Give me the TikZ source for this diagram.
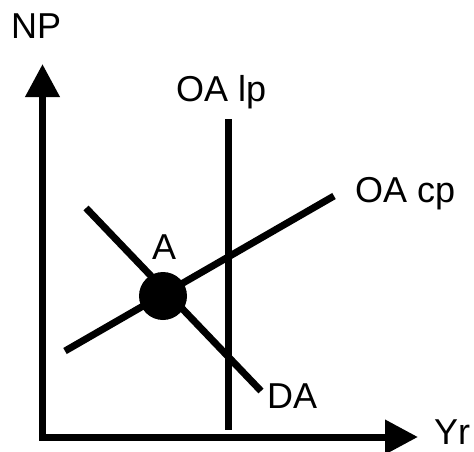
\documentclass[tikz,border=0pt]{standalone}
\usepackage{fontspec}
\setmainfont{Liberation Sans}
\usetikzlibrary{arrows.meta}
\begin{document}
\begin{tikzpicture}[x=1pt,y=-1pt,
  lbl/.style={anchor=base west,inner sep=0pt,font=\fontsize{36}{36}\selectfont},
  thick line/.style={line width=7pt,line cap=butt},
  axisarrow/.style={line width=7pt,line join=miter,{Triangle[length=33pt,width=33pt]}-{Triangle[length=33pt,width=33pt]}},
  dot/.style={circle,fill=black,minimum size=48pt,inner sep=0pt}]
\useasboundingbox (0,0) rectangle (474,452);
% axes
\coordinate (ytip) at (42.5,64);
\coordinate (orig) at (42.5,437);
\coordinate (xtip) at (418,437);
\draw[axisarrow] (ytip) -- (orig) -- (xtip);
\node[lbl] (np) at (11,39) {NP};
\node[lbl] (yr) at (434,444) {Yr};
% OA lp
\coordinate (lptop) at (228,119);
\coordinate (lpbot) at (228,430);
\draw[thick line] (lptop) -- (lpbot);
\node[lbl] (lplbl) at (176,102) {OA lp};
% OA cp
\coordinate (cp1) at (65,351);
\coordinate (cp2) at (334,196);
\draw[thick line] (cp1) -- (cp2);
\node[lbl] (cplbl) at (355,202) {OA cp};
% DA
\coordinate (da1) at (86,208);
\coordinate (da2) at (261,391);
\draw[thick line] (da1) -- (da2);
\node[lbl] (dalbl) at (267,408) {DA};
% point A
\node[dot] (A) at (163,296) {};
\node[lbl] (alabel) at (152,259) {A};
\end{tikzpicture}
\end{document}
